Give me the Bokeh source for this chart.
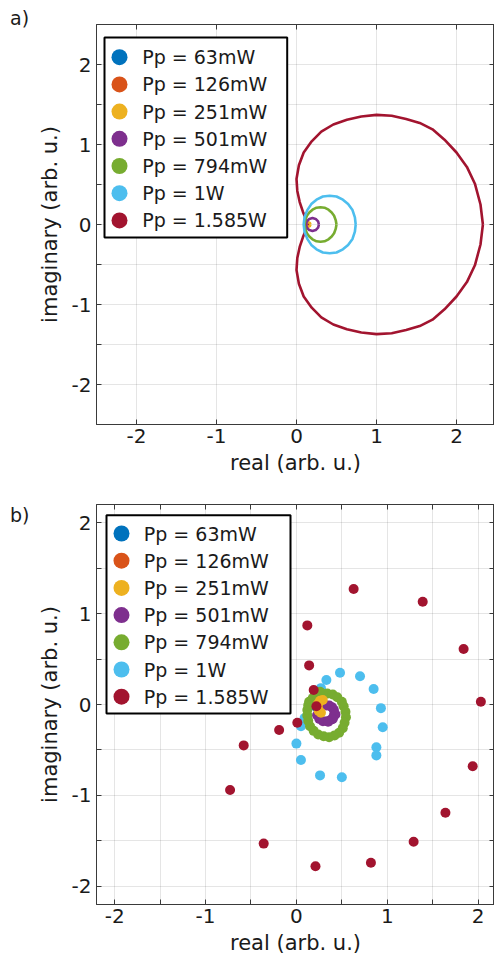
from bokeh.plotting import figure
from bokeh.layouts import column, row
from bokeh.models import Range1d, FixedTicker, LinearAxis, BoxAnnotation, Label, Div
from bokeh.embed import file_html
from bokeh.resources import INLINE

FONT = "DejaVu Sans"
TXT = "#1a1a1a"
AX = "#3a3a3a"

series_names = ["Pp = 63mW", "Pp = 126mW", "Pp = 251mW", "Pp = 501mW",
                "Pp = 794mW", "Pp = 1W", "Pp = 1.585W"]
colors = ["#0072BD", "#D95319", "#EDB120", "#7E2F8E", "#77AC30", "#4DBEEE", "#A2142F"]

# ---------------- panel a: closed curves (real, imaginary) ----------------
a_63_x = [0.126, 0.120, 0.114, 0.120, 0.126]
a_63_y = [0.0, 0.006, 0.0, -0.006, 0.0]
a_126_x = [0.137, 0.125, 0.113, 0.125, 0.137]
a_126_y = [0.0, 0.012, 0.0, -0.012, 0.0]
a_251_x = [0.175, 0.166, 0.145, 0.124, 0.115, 0.124, 0.145, 0.166, 0.175]
a_251_y = [0.0, 0.021, 0.03, 0.021, 0.0, -0.021, -0.03, -0.021, 0.0]
a_501_x = [0.28, 0.27, 0.24, 0.20, 0.16, 0.13, 0.12, 0.13, 0.16, 0.20, 0.24, 0.27, 0.28]
a_501_y = [0.0, 0.04, 0.07, 0.08, 0.07, 0.04, 0.0, -0.04, -0.07, -0.08, -0.07, -0.04, 0.0]
a_794_x = [0.50, 0.49, 0.47, 0.44, 0.40, 0.35, 0.30, 0.25, 0.20, 0.16, 0.13, 0.11, 0.10,
           0.11, 0.13, 0.16, 0.20, 0.25, 0.30, 0.35, 0.40, 0.44, 0.47, 0.49, 0.50]
a_794_y = [0.0, 0.055, 0.11, 0.15, 0.185, 0.21, 0.215, 0.21, 0.185, 0.15, 0.11, 0.055, 0.0,
           -0.055, -0.11, -0.15, -0.185, -0.21, -0.215, -0.21, -0.185, -0.15, -0.11, -0.055, 0.0]
a_1000_x = [0.74, 0.73, 0.70, 0.645, 0.58, 0.50, 0.415, 0.33, 0.25, 0.185, 0.135, 0.10, 0.09,
            0.10, 0.135, 0.185, 0.25, 0.33, 0.415, 0.50, 0.58, 0.645, 0.70, 0.73, 0.74]
a_1000_y = [0.0, 0.09, 0.18, 0.255, 0.31, 0.35, 0.36, 0.35, 0.31, 0.255, 0.18, 0.09, 0.0,
            -0.09, -0.18, -0.255, -0.31, -0.35, -0.36, -0.35, -0.31, -0.255, -0.18, -0.09, 0.0]
a_1585_x = [2.33, 2.30, 2.23, 2.13, 2.00, 1.85, 1.70, 1.54, 1.37, 1.19, 1.00, 0.81, 0.63,
            0.46, 0.31, 0.19, 0.09, 0.03, 0.00, 0.01, 0.04, 0.08, 0.12, 0.14,
            0.12, 0.08, 0.04, 0.01, 0.00, 0.03, 0.09, 0.19, 0.31, 0.46, 0.63, 0.81,
            1.00, 1.19, 1.37, 1.54, 1.70, 1.85, 2.00, 2.13, 2.23, 2.30, 2.33]
a_1585_y = [0.00, 0.25, 0.51, 0.72, 0.90, 1.06, 1.19, 1.27, 1.32, 1.36, 1.37, 1.35, 1.31,
            1.25, 1.16, 1.04, 0.90, 0.74, 0.57, 0.42, 0.28, 0.16, 0.06, 0.00,
            -0.06, -0.16, -0.28, -0.42, -0.57, -0.74, -0.90, -1.04, -1.16, -1.25, -1.31, -1.35,
            -1.37, -1.36, -1.32, -1.27, -1.19, -1.06, -0.90, -0.72, -0.51, -0.25, 0.00]

# ---------------- panel b: measured points (real, imaginary) ----------------
b_63_x = [0.22, 0.23, 0.22]
b_63_y = [0.02, -0.01, -0.03]
b_126_x = [0.24, 0.23, 0.25]
b_126_y = [0.02, -0.02, -0.04]
b_251_x = [0.29, 0.26, 0.24, 0.235, 0.245, 0.27]
b_251_y = [0.05, 0.04, 0.01, -0.03, -0.07, -0.09]
b_501_x = [0.33, 0.362, 0.391, 0.412, 0.419, 0.408, 0.38, 0.339, 0.292, 0.252, 0.227,
           0.43, 0.40, 0.35]
b_501_y = [-0.01, -0.012, -0.029, -0.058, -0.096, -0.135, -0.167, -0.185, -0.183, -0.158, -0.118,
           -0.11, -0.16, -0.19]
b_794_x = [0.14, 0.18, 0.23, 0.28, 0.34, 0.40, 0.45, 0.50, 0.52, 0.54, 0.545, 0.53, 0.51,
           0.47, 0.42, 0.36, 0.30, 0.24, 0.19, 0.15, 0.13, 0.12, 0.12, 0.13, 0.21, 0.26]
b_794_y = [0.03, 0.07, 0.10, 0.12, 0.12, 0.11, 0.08, 0.03, -0.02, -0.08, -0.14, -0.20, -0.26,
           -0.31, -0.34, -0.36, -0.35, -0.33, -0.29, -0.24, -0.18, -0.12, -0.06, -0.01, 0.12, 0.14]
b_1000_x = [0.27, 0.33, 0.48, 0.70, 0.85, 0.93, 0.95, 0.88, 0.88, 0.50, 0.26, 0.05, 0.00, 0.05, 0.09]
b_1000_y = [0.18, 0.27, 0.35, 0.31, 0.17, -0.04, -0.25, -0.47, -0.56, -0.80, -0.78, -0.61, -0.43, -0.24, -0.15]
b_1585_x = [0.22, 0.19, 0.14, 0.12, 0.63, 1.39, 1.84, 2.03, 1.94, 1.64, 1.29, 0.82, 0.21,
            -0.36, -0.73, -0.58, -0.19, 0.01]
b_1585_y = [-0.02, 0.16, 0.43, 0.87, 1.27, 1.13, 0.61, 0.03, -0.68, -1.19, -1.51, -1.74, -1.78,
            -1.53, -0.94, -0.45, -0.28, -0.20]

# ---------------- ticks ----------------
a_xticks = [-2, -1, 0, 1, 2]
a_xtick_labels = ["-2", "-1", "0", "1", "2"]
half_ticks = [-2, -1.5, -1, -0.5, 0, 0.5, 1, 1.5, 2]
half_tick_labels = ["-2", "", "-1", "", "0", "", "1", "", "2"]

x_label = "real (arb. u.)"
y_label = "imaginary (arb. u.)"
panel_tags = ["a)", "b)"]


def style_axis(ax, ticks, labels, shown=True):
    ax.ticker = FixedTicker(ticks=ticks)
    ax.major_label_overrides = {t: (l if shown else "") for t, l in zip(ticks, labels)}
    ax.major_tick_in = 5
    ax.major_tick_out = 0
    ax.minor_tick_line_color = None
    ax.axis_line_color = AX
    ax.major_tick_line_color = AX
    ax.major_label_text_font = FONT
    ax.major_label_text_color = TXT
    ax.axis_label_text_font = FONT
    ax.axis_label_text_font_size = "21px"
    ax.axis_label_text_font_style = "normal"
    ax.axis_label_text_color = TXT
    if shown:
        ax.major_label_text_font_size = "20px"
        ax.major_label_standoff = 4
    else:
        ax.major_label_text_font_size = "0px"
        ax.major_label_standoff = 0


def make_fig(xr, yr, xticks, xlabels, yticks, ylabels, top, bottom):
    p = figure(frame_width=398, frame_height=400, x_range=Range1d(*xr), y_range=Range1d(*yr),
               output_backend="svg", toolbar_location=None,
               min_border_left=66, min_border_right=0, min_border_top=top, min_border_bottom=bottom,
               x_axis_label=x_label, y_axis_label=y_label)
    p.background_fill_color = "white"
    p.border_fill_color = "white"
    p.outline_line_color = AX
    p.outline_line_width = 1
    style_axis(p.xaxis[0], xticks, xlabels)
    style_axis(p.yaxis[0], yticks, ylabels)
    p.yaxis[0].major_label_standoff = 5
    p.yaxis[0].axis_label_standoff = 7
    p.xgrid.grid_line_color = "#262626"
    p.xgrid.grid_line_alpha = 0.12
    p.ygrid.grid_line_color = "#262626"
    p.ygrid.grid_line_alpha = 0.12
    ra = LinearAxis()
    style_axis(ra, yticks, ylabels, shown=False)
    p.add_layout(ra, "right")
    ta = LinearAxis()
    style_axis(ta, xticks, xlabels, shown=False)
    p.add_layout(ta, "above")
    return p


def add_legend(p, box, mx, tx, y0, dy):
    l, r, t, b = box
    p.add_layout(BoxAnnotation(left=l, right=r, top=t, bottom=b,
                               left_units="screen", right_units="screen",
                               top_units="screen", bottom_units="screen",
                               fill_color="white", fill_alpha=1.0,
                               line_color="black", line_width=2, line_alpha=1.0))
    for i, (name, c) in enumerate(zip(series_names, colors)):
        yy = y0 - dy * i
        p.add_layout(BoxAnnotation(left=mx - 8, right=mx + 8, top=yy + 8, bottom=yy - 8,
                                   left_units="screen", right_units="screen",
                                   top_units="screen", bottom_units="screen",
                                   border_radius=8, fill_color=c, fill_alpha=1.0,
                                   line_color=None))
        p.add_layout(Label(x=tx, y=yy, x_units="screen", y_units="screen", text=name,
                           text_font=FONT, text_font_size="19px", text_color=TXT,
                           text_baseline="middle", text_align="left"))


def tag_div(text, pad_top):
    html = ('<div style="padding:%dpx 0 0 10px;margin:0;font-family:\'DejaVu Sans\';font-size:19px;'
            'line-height:normal;color:%s;">%s</div>' % (pad_top, TXT, text))
    return Div(text=html, width=30, height=40, margin=0)


# ---------------- figure a ----------------
pa = make_fig((-2.5, 2.475), (-2.5, 2.5), a_xticks, a_xtick_labels, half_ticks, half_tick_labels,
              24, 76)
pa.xaxis[0].major_label_standoff = 1
pa.xaxis[0].axis_label_standoff = 2
curves_a = [(a_63_x, a_63_y), (a_126_x, a_126_y), (a_251_x, a_251_y), (a_501_x, a_501_y),
            (a_794_x, a_794_y), (a_1000_x, a_1000_y), (a_1585_x, a_1585_y)]
order = [6, 0, 1, 2, 3, 4, 5]
for i in order:
    xs, ys = curves_a[i]
    pa.line(xs, ys, line_color=colors[i], line_width=2.6, line_join="round")
add_legend(pa, (8, 190.7, 387, 187), 23, 45.7, 367.3, 27.2)

# ---------------- figure b ----------------
pb = make_fig((-2.2, 2.18), (-2.2, 2.2), half_ticks, half_tick_labels, half_ticks, half_tick_labels,
              4, 44)
pb.xaxis[0].major_label_standoff = 0
pb.xaxis[0].axis_label_standoff = 0
pb.xaxis[0].axis_label_text_font_size = "19px"
points_b = [(b_63_x, b_63_y), (b_126_x, b_126_y), (b_251_x, b_251_y), (b_501_x, b_501_y),
            (b_794_x, b_794_y), (b_1000_x, b_1000_y), (b_1585_x, b_1585_y)]
order_b = [5, 0, 1, 3, 4, 2, 6]
for i in order_b:
    xs, ys = points_b[i]
    pb.scatter(xs, ys, size=10, fill_color=colors[i], line_color=None)
add_legend(pb, (10, 194, 389.3, 191), 25, 47.3, 371, 27.2)

layout = column(row(tag_div(panel_tags[0], 7), pa, spacing=0),
                row(tag_div(panel_tags[1], 4), pb, spacing=0), spacing=0)
open("out.html", "w").write(file_html(layout, INLINE))
